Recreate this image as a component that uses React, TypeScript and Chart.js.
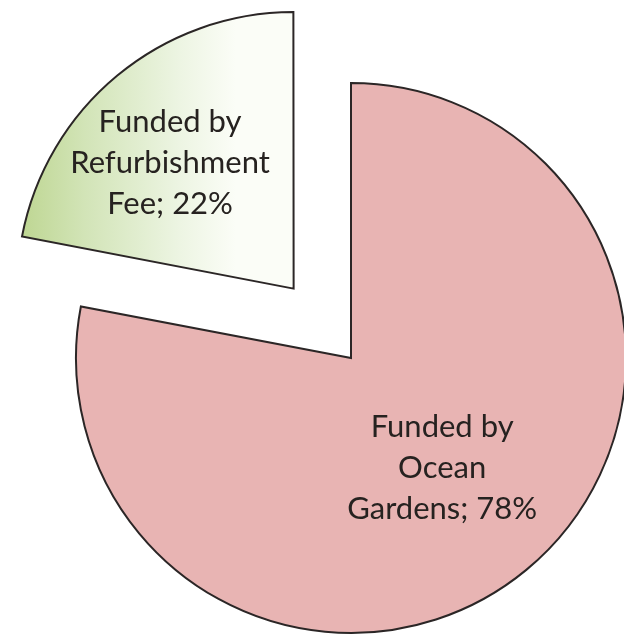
import React, { useEffect, useRef } from "react";
import { Chart, registerables } from "chart.js";

Chart.register(...registerables);

const categories = ["Funded by Ocean Gardens", "Funded by Refurbishment Fee"];
const values = [78, 22];
const labelLines = [
  ["Funded by", "Ocean", "Gardens; 78%"],
  ["Funded by", "Refurbishment", "Fee; 22%"],
];

const sliceLabels = {
  id: "sliceLabels",
  afterDatasetsDraw(chart: any) {
    const ctx = chart.ctx;
    const meta = chart.getDatasetMeta(0);
    const ratios = [0.52, 0.64];
    const shifts = [0, -5];
    meta.data.forEach((arc: any, i: number) => {
      const p = arc.getProps(["x", "y", "startAngle", "endAngle", "outerRadius"], true);
      const half = (p.startAngle + p.endAngle) / 2;
      const off = (arc.options.offset || 0) / 4;
      const vx = p.x + Math.cos(half) * off;
      const vy = p.y + Math.sin(half) * off;
      const mid = half + (shifts[i] * Math.PI) / 180;
      const r = p.outerRadius * ratios[i];
      const cx = vx + Math.cos(mid) * r;
      const cy = vy + Math.sin(mid) * r;
      ctx.save();
      ctx.font = "31px Lato, 'Open Sans', sans-serif";
      ctx.fillStyle = "#262220";
      ctx.textAlign = "center";
      ctx.textBaseline = "middle";
      const lines = labelLines[i];
      const lh = 41;
      lines.forEach((t, j) => {
        ctx.fillText(t, cx, cy + (j - (lines.length - 1) / 2) * lh);
      });
      ctx.restore();
    });
  },
};

export default function App() {
  const ref = useRef<HTMLCanvasElement>(null);
  useEffect(() => {
    const canvas = ref.current!;
    const chart = new Chart(canvas, {
      type: "pie",
      data: {
        labels: categories,
        datasets: [
          {
            data: values,
            backgroundColor: (c: any) => {
              if (c.dataIndex === 0) return "#e8b4b3";
              const g = c.chart.ctx.createLinearGradient(18, 0, 293, 0);
              g.addColorStop(0, "#abc96f");
              g.addColorStop(0.45, "#d2e4b7");
              g.addColorStop(0.8, "#edf5e3");
              g.addColorStop(1, "#fbfdf7");
              return g;
            },
            borderColor: "#2b2626",
            borderWidth: 2,
            borderJoinStyle: "miter",
            offset: [0, 360],
          } as any,
        ],
      },
      options: {
        responsive: false,
        animation: false,
        radius: 275,
        layout: { padding: { left: 78, right: 0, top: 80, bottom: 0 } },
        plugins: {
          legend: { display: false },
          tooltip: { enabled: false },
        },
      } as any,
      plugins: [sliceLabels],
    });
    return () => chart.destroy();
  }, []);
  return (
    <canvas
      ref={ref}
      width={624}
      height={636}
      style={{ position: "absolute", left: 0, top: 0, width: 624, height: 636, background: "#fff" }}
    />
  );
}
